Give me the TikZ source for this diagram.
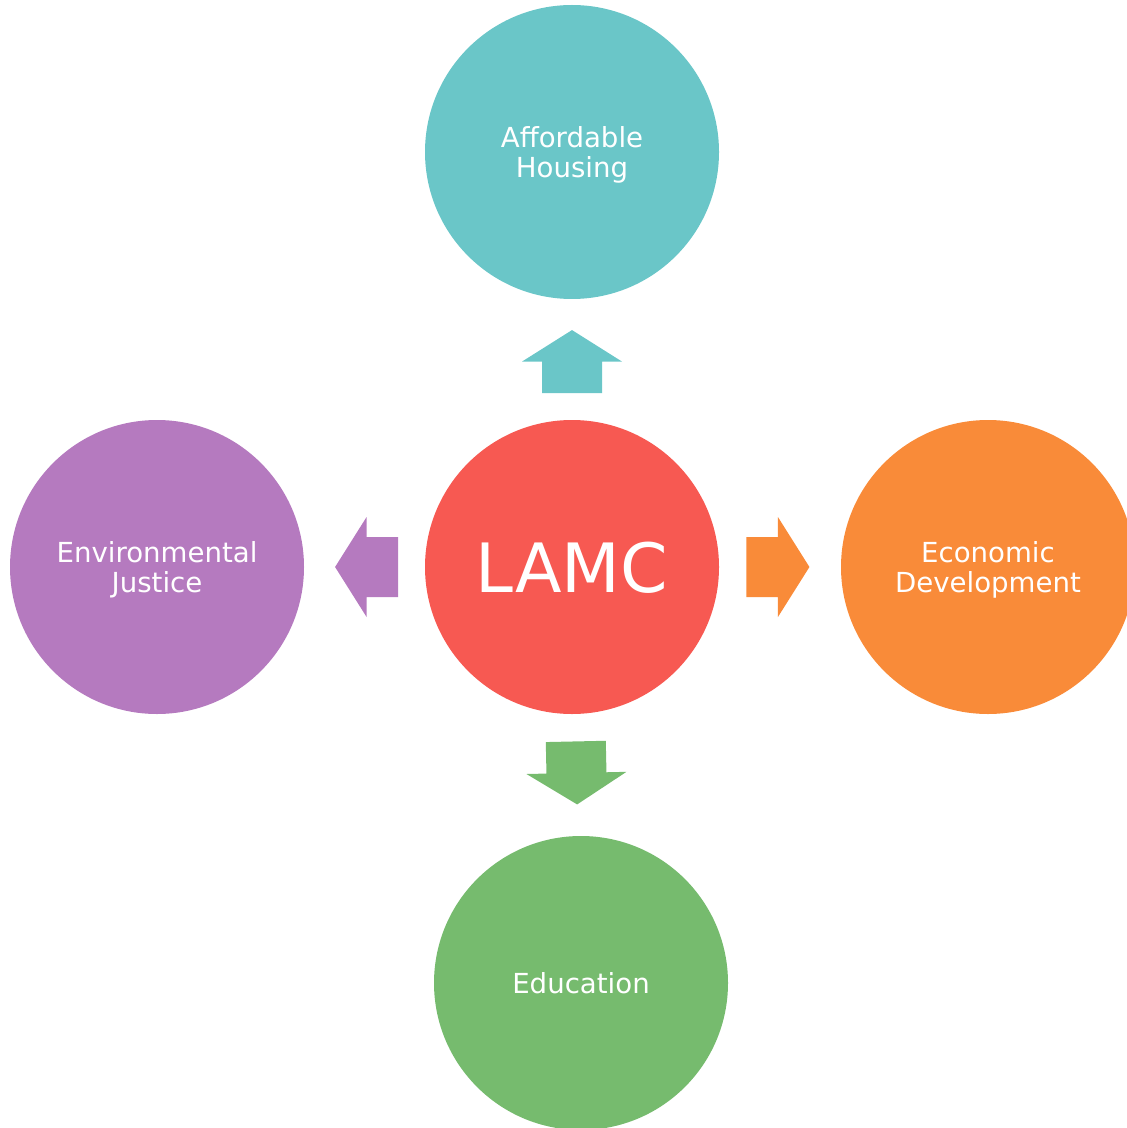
\documentclass[tikz,border=0pt]{standalone}
\usepackage{fontspec}
\setmainfont{DejaVu Sans}
\usetikzlibrary{calc}
\definecolor{HousingTeal}{RGB}{106, 198, 200}
\definecolor{CoreRed}{RGB}{247, 89, 82}
\definecolor{JusticePurple}{RGB}{181, 122, 191}
\definecolor{EconOrange}{RGB}{249, 139, 57}
\definecolor{EduGreen}{RGB}{118, 187, 110}

\begin{document}
\begin{tikzpicture}[x=0.5pt, y=0.5pt,
    bubble/.style={circle, minimum size=147pt, inner sep=0pt, text=white,
        align=center, text depth=0pt, font=\fontsize{13.8}{15}\selectfont},
    blockarrow/.pic={
        \fill (-31.5,-30) -- (0,-30) -- (0,-50) -- (31.5,0) -- (0,50)
            -- (0,30) -- (-31.5,30) -- cycle;
    }]
    \clip (0,0) rectangle (1127,-1128);
    % circles
    \node[bubble, fill=CoreRed, font=\fontsize{34}{36}\selectfont] (lamc) at (572,-567) {LAMC};
    \node[bubble, fill=HousingTeal] (housing) at (572,-152) {Affordable\\Housing};
    \node[bubble, fill=JusticePurple] (justice) at (157,-567) {Environmental\\Justice};
    \node[bubble, fill=EconOrange] (econ) at (988,-567) {Economic\\Development};
    \node[bubble, fill=EduGreen] (edu) at (581,-983) {Education};
    % block arrows
    \path (lamc.center) -- (housing.center)
        pic[pos=0.495, sloped, allow upside down, fill=HousingTeal] {blockarrow};
    \path (lamc.center) -- (justice.center)
        pic[pos=0.495, sloped, allow upside down, fill=JusticePurple] {blockarrow};
    \path (lamc.center) -- (econ.center)
        pic[pos=0.495, sloped, allow upside down, fill=EconOrange] {blockarrow};
    \path (lamc.center) -- (edu.center)
        pic[pos=0.495, sloped, allow upside down, fill=EduGreen] {blockarrow};
\end{tikzpicture}
\end{document}
